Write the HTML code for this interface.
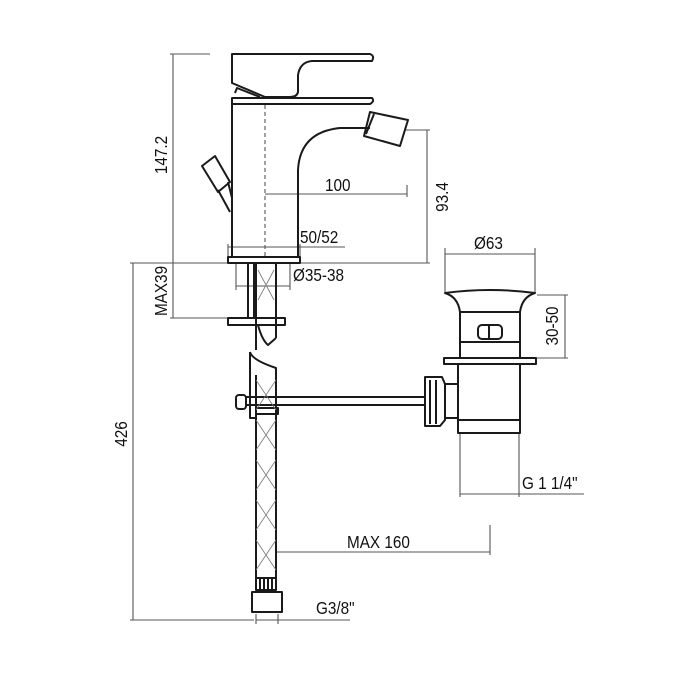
<!DOCTYPE html>
<html><head><style>
html,body{margin:0;padding:0;background:#fff;}
svg{display:block;}
text{font-family:"Liberation Sans",sans-serif;font-size:18px;fill:#111;}
</style></head><body>
<svg width="700" height="700" viewBox="0 0 700 700" xmlns="http://www.w3.org/2000/svg">
<rect width="700" height="700" fill="#fff"/>
<g stroke="#555" stroke-width="1.1" fill="none">
<line x1="170" y1="54" x2="210" y2="54"/>
<line x1="173" y1="54" x2="173" y2="318"/>
<line x1="160" y1="263" x2="430" y2="263"/>
<line x1="170" y1="318" x2="230" y2="318"/>
<line x1="133" y1="263" x2="133" y2="620"/>
<line x1="130" y1="263" x2="160" y2="263"/>
<line x1="130" y1="620" x2="254" y2="620"/>
<line x1="405" y1="130" x2="430" y2="130"/>
<line x1="427" y1="130" x2="427" y2="263"/>
<line x1="265" y1="194" x2="407" y2="194"/>
<line x1="407" y1="185" x2="407" y2="197"/>
<line x1="228" y1="247" x2="345" y2="247"/>
<line x1="228" y1="244" x2="228" y2="257"/>
<line x1="300" y1="244" x2="300" y2="257"/>
<line x1="236" y1="286" x2="290" y2="286"/>
<line x1="236" y1="263" x2="236" y2="290"/>
<line x1="290" y1="263" x2="290" y2="290"/>
<line x1="445" y1="254" x2="535" y2="254"/>
<line x1="445" y1="248" x2="445" y2="292"/>
<line x1="535" y1="248" x2="535" y2="292"/>
<line x1="537" y1="295" x2="568" y2="295"/>
<line x1="537" y1="358" x2="568" y2="358"/>
<line x1="565" y1="295" x2="565" y2="358"/>
<line x1="460" y1="433" x2="460" y2="497"/>
<line x1="519" y1="433" x2="519" y2="497"/>
<line x1="460" y1="494" x2="584" y2="494"/>
<line x1="275" y1="552" x2="490" y2="552"/>
<line x1="490" y1="525" x2="490" y2="555"/>
<line x1="256" y1="620" x2="350" y2="620"/>
<line x1="256" y1="614" x2="256" y2="624"/>
<line x1="278" y1="614" x2="278" y2="624"/>
<line x1="265" y1="105" x2="265" y2="258" stroke-dasharray="4,3"/>
</g>
<g stroke="#1a1a1a" stroke-width="2" fill="none" stroke-linejoin="round">
<path d="M232 54 H370 Q375 56 372 61 H312 Q300 62 298 75 V92 Q297 97 290 97 H265 L232 83 Z"/>
<path d="M235 93 L237 88 L260 97"/>
<path d="M232 98 H372 Q375 101 370 104 H232 Z"/>
<path d="M232 104 V257"/>
<path d="M298 257 V170 Q300 132 340 128 H370"/>
<path d="M370 112 L408 120 L400 146 L364 136 Z"/>
<path d="M374 114 L366 134"/>
<path d="M202 166 L215 156 L230 182 L218 192 Z"/>
<path d="M218 190 L230 212 M228 182 L232 198"/>
<rect x="228" y="257" width="72" height="6"/>
<rect x="228" y="318" width="57" height="7"/>
<path d="M248 263 V318 M254 263 V318"/>
<path d="M256 263 V350 M276 263 V325 M276 325 V338"/>
<path d="M258 325 Q262 340 268 345 L276 338"/>
<path d="M256 375 V578 M276 375 V578"/>
<path d="M250 352 Q252 360 276 368 V400 M250 352 V418 H256"/>
<rect x="236" y="395" width="10" height="14" rx="3"/>
<path d="M246 397 H425 M246 405 H425"/>
<rect x="256" y="408" width="22" height="6"/>
<path d="M256 578 H276 V590 H256 Z M260 578 V590 M264 578 V590 M268 578 V590 M272 578 V590"/>
<path d="M252 592 H282 V612 H252 Z"/>
<path d="M445 293 Q490 287 535 293 Q522 297 520 312 H460 Q458 297 445 293 Z"/>
<path d="M460 312 V358 M520 312 V358 M460 342 H520"/>
<rect x="478" y="325" width="24" height="14" rx="4"/>
<path d="M489 325 V339"/>
<rect x="444" y="358" width="92" height="6"/>
<path d="M458 364 V433 H520 V364 M458 420 H520"/>
<path d="M445 384 H458 V418 H445 Z"/>
<path d="M425 377 H442 L445 384 V420 L440 426 H425 Z M430 380 V424 M436 380 V424"/>
</g>
<g stroke="#777" stroke-width="0.8">
<path d="M256 380 L276 410 M256 410 L276 380 M256 420 L276 450 M256 450 L276 420 M256 460 L276 490 M256 490 L276 460 M256 500 L276 530 M256 530 L276 500 M256 540 L276 570 M256 570 L276 540 M258 270 L274 300 M258 300 L274 270"/>
</g>
<g>
<text transform="translate(325,191) scale(0.85,1)">100</text>
<text transform="translate(300,243) scale(0.85,1)">50/52</text>
<text transform="translate(293,281) scale(0.85,1)">Ø35-38</text>
<text transform="translate(474,249) scale(0.85,1)">Ø63</text>
<text transform="translate(522,489) scale(0.85,1)">G 1 1/4"</text>
<text transform="translate(347,548) scale(0.85,1)">MAX 160</text>
<text transform="translate(316,614) scale(0.85,1)">G3/8"</text>
<text transform="translate(167,155) rotate(-90) scale(0.85,1)" text-anchor="middle">147.2</text>
<text transform="translate(448,197) rotate(-90) scale(0.85,1)" text-anchor="middle">93.4</text>
<text transform="translate(167,291) rotate(-90) scale(0.85,1)" text-anchor="middle">MAX39</text>
<text transform="translate(127,434) rotate(-90) scale(0.85,1)" text-anchor="middle">426</text>
<text transform="translate(558,326) rotate(-90) scale(0.85,1)" text-anchor="middle">30-50</text>
</g>
</svg>
</body></html>
